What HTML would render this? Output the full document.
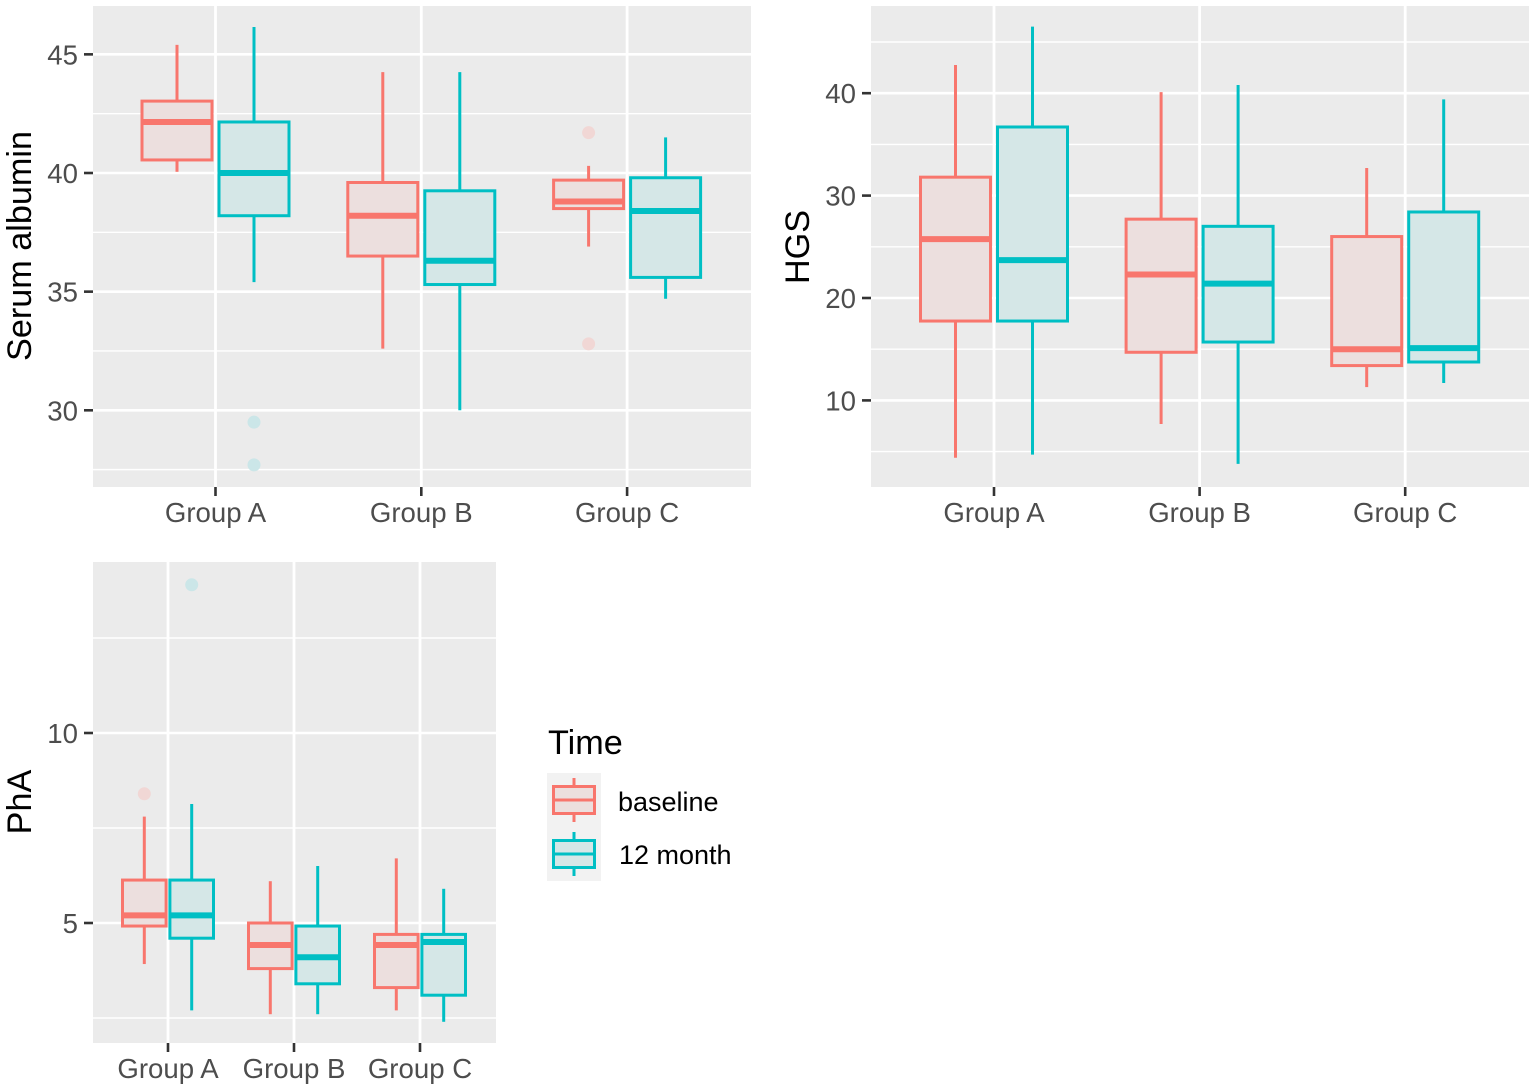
<!DOCTYPE html>
<html lang="en">
<head>
<meta charset="utf-8">
<title>Boxplots by group and time</title>
<style>
html,body{margin:0;padding:0;background:#fff;width:1535px;height:1090px;overflow:hidden}
svg{display:block}
text{font-family:"Liberation Sans",sans-serif}
</style>
</head>
<body>
<svg id="chart" width="1535" height="1090" viewBox="0 0 1535 1090" xmlns="http://www.w3.org/2000/svg"></svg>
<script>
// Shared categories and series
const categories = ['Group A', 'Group B', 'Group C'];
const seriesNames = ['baseline', '12 month'];

// Each row: [whisker low, Q1, median, Q3, whisker high]; rows run Group A, B, C
const albuminBaseline = [[40.05, 40.55, 42.15, 43.03, 45.4], [32.6, 36.5, 38.2, 39.6, 44.25], [36.9, 38.5, 38.8, 39.7, 40.3]];
const albuminMonth12 = [[35.4, 38.2, 40, 42.15, 46.15], [30, 35.3, 36.3, 39.25, 44.25], [34.7, 35.6, 38.4, 39.8, 41.5]];
const albuminOutliersBaseline = [[], [], [41.7, 32.8]];
const albuminOutliersMonth12 = [[29.5, 27.7], [], []];
const albuminTicks = [30, 35, 40, 45];
const albuminMinor = [27.5, 32.5, 37.5, 42.5];

const hgsBaseline = [[4.4, 17.75, 25.75, 31.8, 42.75], [7.7, 14.7, 22.3, 27.7, 40.1], [11.3, 13.4, 15, 26, 32.7]];
const hgsMonth12 = [[4.7, 17.75, 23.7, 36.7, 46.5], [3.8, 15.7, 21.4, 27, 40.8], [11.7, 13.75, 15.1, 28.4, 39.4]];
const hgsOutliersBaseline = [[], [], []];
const hgsOutliersMonth12 = [[], [], []];
const hgsTicks = [10, 20, 30, 40];
const hgsMinor = [5, 15, 25, 35, 45];

const phaBaseline = [[3.92, 4.92, 5.2, 6.13, 7.8], [2.6, 3.8, 4.42, 5, 6.1], [2.7, 3.3, 4.42, 4.7, 6.7]];
const phaMonth12 = [[2.7, 4.6, 5.2, 6.13, 8.13], [2.6, 3.4, 4.1, 4.92, 6.5], [2.4, 3.1, 4.5, 4.7, 5.9]];
const phaOutliersBaseline = [[8.4], [], []];
const phaOutliersMonth12 = [[13.9], [], []];
const phaTicks = [5, 10];
const phaMinor = [2.5, 7.5, 12.5];

const COLORS = ['#F8766D', '#00BFC4'];
const FILLS = ['#ecdfde', '#d5e7e7'];
const OUTLIERS = ['#f1d7d5', '#cbe6e8'];
const svg = document.getElementById('chart');
const NS = 'http://www.w3.org/2000/svg';

function add(parent, tag, attrs, text) {
  const el = document.createElementNS(NS, tag);
  for (const k in attrs) el.setAttribute(k, attrs[k]);
  if (text !== undefined) el.textContent = text;
  parent.appendChild(el);
  return el;
}

function drawBox(g, s, row, outliers, xCenter, halfWidth, yScale) {
  const [lo, q1, med, q3, hi] = row;
  const x0 = xCenter - halfWidth;
  const w = halfWidth * 2;
  add(g, 'line', {x1: xCenter, x2: xCenter, y1: yScale(hi), y2: yScale(q3), stroke: COLORS[s], 'stroke-width': 3});
  add(g, 'line', {x1: xCenter, x2: xCenter, y1: yScale(q1), y2: yScale(lo), stroke: COLORS[s], 'stroke-width': 3});
  add(g, 'rect', {x: x0, y: yScale(q3), width: w, height: yScale(q1) - yScale(q3), fill: FILLS[s], stroke: COLORS[s], 'stroke-width': 3});
  add(g, 'line', {x1: x0, x2: x0 + w, y1: yScale(med), y2: yScale(med), stroke: COLORS[s], 'stroke-width': 6});
  outliers.forEach(function (v) {
    add(g, 'circle', {cx: xCenter, cy: yScale(v), r: 6.5, fill: OUTLIERS[s]});
  });
}

function drawPanel(p) {
  const g = add(svg, 'g', {});
  
  
  const yScale = function (v) { return p.y0 - (v - p.v0) * p.pxPerUnit; };
  const xScale = function (i) { return p.xFirst + i * p.xStep; };

  const bg = add(g, 'rect', {x: p.left, y: p.top, width: p.right - p.left, height: p.bottom - p.top, fill: '#EBEBEB'});
  
  

  p.minor.forEach(function (v) {
    add(g, 'line', {x1: p.left, x2: p.right, y1: yScale(v), y2: yScale(v), stroke: '#fff', 'stroke-width': 1.4});
  });
  p.ticks.forEach(function (v) {
    add(g, 'line', {x1: p.left, x2: p.right, y1: yScale(v), y2: yScale(v), stroke: '#fff', 'stroke-width': 2.6});
    add(g, 'line', {x1: p.left - 9, x2: p.left, y1: yScale(v), y2: yScale(v), stroke: '#333', 'stroke-width': 2.6});
    const t = add(g, 'text', {x: p.left - 15, y: yScale(v) + 10, 'text-anchor': 'end', 'font-size': 27.6, fill: '#4D4D4D'}, String(v));
    
    
  });
  categories.forEach(function (c, i) {
    const x = xScale(i);
    add(g, 'line', {x1: x, x2: x, y1: p.top, y2: p.bottom, stroke: '#fff', 'stroke-width': 2.8});
    add(g, 'line', {x1: x, x2: x, y1: p.bottom, y2: p.bottom + 9, stroke: '#333', 'stroke-width': 2.6});
    const t = add(g, 'text', {x: x, y: p.bottom + 35, 'text-anchor': 'middle', 'font-size': 27.6, fill: '#4D4D4D'}, c);
    
    
  });
  categories.forEach(function (c, i) {
    [p.baseline, p.month12].forEach(function (rows, s) {
      const outliers = s === 0 ? p.outBaseline : p.outMonth12;
      const b = add(g, 'g', {});
      
      
      drawBox(b, s, rows[i], outliers[i], xScale(i) + (s === 0 ? -p.offset : p.offset), p.halfWidth, yScale);
    });
  });
  const title = add(g, 'text', {x: 0, y: 0, transform: 'translate(' + p.titleX + ',' + p.titleY + ') rotate(-90)', 'text-anchor': 'middle', 'font-size': 34.2, fill: '#000'}, p.title);
  
  
}

drawPanel({name: 'serum-albumin-panel', title: 'Serum albumin', titleX: 31, titleY: 246,
  left: 93, right: 751, top: 6, bottom: 487, y0: 173, v0: 40, pxPerUnit: 23.73,
  xFirst: 215.5, xStep: 205.8, offset: 38.5, halfWidth: 35,
  ticks: albuminTicks, minor: albuminMinor,
  baseline: albuminBaseline, month12: albuminMonth12,
  outBaseline: albuminOutliersBaseline, outMonth12: albuminOutliersMonth12});

drawPanel({name: 'hgs-panel', title: 'HGS', titleX: 809, titleY: 247,
  left: 871, right: 1529, top: 6, bottom: 487, y0: 298, v0: 20, pxPerUnit: 10.24,
  xFirst: 994, xStep: 205.6, offset: 38.5, halfWidth: 35,
  ticks: hgsTicks, minor: hgsMinor,
  baseline: hgsBaseline, month12: hgsMonth12,
  outBaseline: hgsOutliersBaseline, outMonth12: hgsOutliersMonth12});

drawPanel({name: 'pha-panel', title: 'PhA', titleX: 31, titleY: 802,
  left: 93, right: 496, top: 562, bottom: 1043, y0: 923, v0: 5, pxPerUnit: 38,
  xFirst: 168, xStep: 126, offset: 23.7, halfWidth: 21.8,
  ticks: phaTicks, minor: phaMinor,
  baseline: phaBaseline, month12: phaMonth12,
  outBaseline: phaOutliersBaseline, outMonth12: phaOutliersMonth12});

// Legend
const legend = add(svg, 'g', {});


const legendTitle = add(legend, 'text', {x: 548, y: 754, 'font-size': 34.2, fill: '#000'}, 'Time');


seriesNames.forEach(function (name, s) {
  const y = 773 + s * 54;
  const entry = add(legend, 'g', {});
  
  
  add(entry, 'rect', {x: 547, y: y, width: 54, height: 54, fill: '#F2F2F2'});
  add(entry, 'line', {x1: 574, x2: 574, y1: y + 5, y2: y + 49, stroke: COLORS[s], 'stroke-width': 3});
  add(entry, 'rect', {x: 553.5, y: y + 13.5, width: 41, height: 27, fill: FILLS[s], stroke: COLORS[s], 'stroke-width': 3});
  add(entry, 'line', {x1: 553.5, x2: 594.5, y1: y + 27, y2: y + 27, stroke: COLORS[s], 'stroke-width': 3});
  add(entry, 'text', {x: s === 0 ? 618 : 619, y: y + 38 - (s === 0 ? 0 : 1), 'font-size': 27, fill: '#000'}, name);
});
</script>
</body>
</html>
